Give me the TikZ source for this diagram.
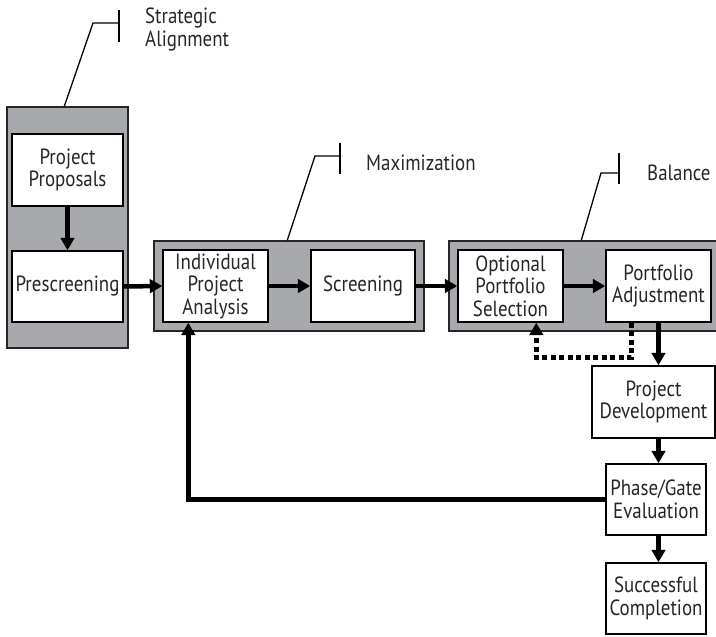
\documentclass[tikz,border=0pt]{standalone}
\usepackage{fontspec}
\setmainfont{PT Sans}[FakeStretch=0.86]
\usetikzlibrary{arrows.meta}
\definecolor{panelgrey}{HTML}{A7A9AC}
\definecolor{textgrey}{HTML}{262626}
\begin{document}
\begin{tikzpicture}[x=1pt,y=-1pt,
  panel/.style={draw=black!85, line width=1.4pt, fill=panelgrey, inner sep=0pt},
  wbox/.style={draw=black, line width=1.4pt, fill=white, align=center, inner sep=0pt,
    text=textgrey, font=\fontsize{22}{22.5}\selectfont},
  lbl/.style={anchor=west, align=left, inner sep=0pt, text=textgrey, font=\fontsize{22}{23}\selectfont},
  flow/.style={line width=4.5pt, -{Triangle[length=12.5pt,width=13.5pt]}},
  dotflow/.style={line width=4.5pt, dash pattern=on 5pt off 3.5pt, -{Triangle[length=12.5pt,width=13.5pt]}},
  leader/.style={line width=1.3pt, black},
]
\useasboundingbox (0,0) rectangle (716,637);
\clip (0,0) rectangle (716,637);
% panels
\node[panel, minimum width=121pt, minimum height=241pt] (gA) at (67.5,227.5) {};
\node[panel, minimum width=270pt, minimum height=90pt] (gM) at (289,286) {};
\node[panel, minimum width=311pt, minimum height=90pt] (gB) at (604.5,286) {};
% boxes
\node[wbox, minimum width=111pt, minimum height=72pt] (pp) at (67.5,170) {Project\\Proposals};
\node[wbox, minimum width=111pt, minimum height=71pt] (pre) at (67.5,286.5) {Prescreening};
\node[wbox, minimum width=105pt, minimum height=72pt] (ipa) at (215.5,286) {Individual\\Project\\Analysis};
\node[wbox, minimum width=104pt, minimum height=72pt] (scr) at (363,286) {Screening};
\node[wbox, minimum width=105pt, minimum height=72pt] (ops) at (510.5,286) {Optional\\Portfolio\\Selection};
\node[wbox, minimum width=105pt, minimum height=72pt] (pa) at (658.5,286) {Portfolio\\Adjustment};
\node[wbox, minimum width=123pt, minimum height=72pt] (pd) at (653.5,402) {Project\\Development};
\node[wbox, minimum width=100pt, minimum height=71pt] (pge) at (656,499.5) {Phase/Gate\\Evaluation};
\node[wbox, minimum width=100pt, minimum height=71pt] (sc) at (656,598.5) {Successful\\Completion};
% labels
\node[lbl] (tA) at (145,29) {Strategic\\Alignment};
\node[lbl] (tM) at (366,163) {Maximization};
\node[lbl] (tB) at (647,173) {Balance};
% leaders
\coordinate (bA1) at (119,10); \coordinate (bA2) at (119,42);
\coordinate (bM1) at (340,143); \coordinate (bM2) at (340,174);
\coordinate (bB1) at (619,153); \coordinate (bB2) at (619,184);
\draw[leader] ([xshift=58pt]gA.north west) -- (93,23) -- (bA1 |- 0,23);
\draw[leader] (bA1) -- (bA2);
\draw[leader] ([xshift=134pt]gM.north west) -- (315,156) -- (bM1 |- 0,156);
\draw[leader] (bM1) -- (bM2);
\draw[leader] ([xshift=133pt]gB.north west) -- (601,173) -- (bB1 |- 0,173);
\draw[leader] (bB1) -- (bB2);
% flows
\draw[flow] (pp.south) -- (pre.north);
\draw[flow] (pre.east) -- (ipa.west);
\draw[flow] (ipa.east) -- (scr.west);
\draw[flow] (scr.east) -- (ops.west);
\draw[flow] (ops.east) -- (pa.west);
\draw[flow] (pa.south) -- (pa.south |- pd.north);
\draw[flow] (pd.south -| pa.south) -- (pge.north -| pa.south);
\draw[flow] (pge.south -| pa.south) -- (sc.north -| pa.south);
\draw[flow] (pge.west) -| ([xshift=26pt]ipa.south west);
\draw[dotflow] ([xshift=26pt]pa.south west) -- ++(0,35) -| ([xshift=79pt]ops.south west);
\end{tikzpicture}
\end{document}
